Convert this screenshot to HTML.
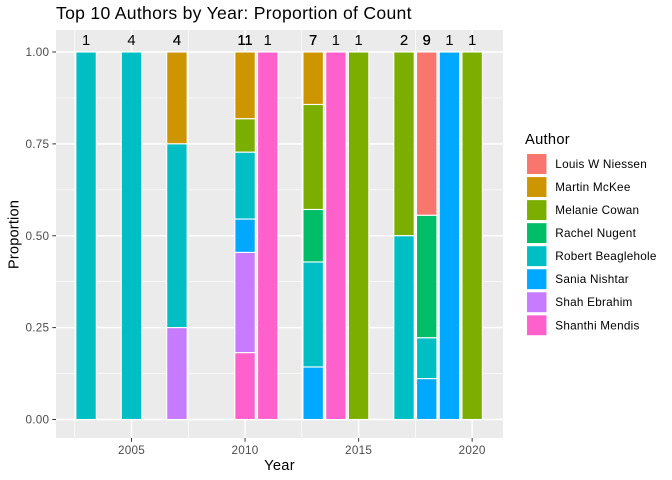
<!DOCTYPE html>
<html>
<head>
<meta charset="utf-8">
<title>Top 10 Authors by Year: Proportion of Count</title>
<style>
html,body{margin:0;padding:0;background:#fff;}
svg{display:block;font-family:"Liberation Sans",Arial,sans-serif;}
</style>
</head>
<body>
<svg id="chart" width="672" height="480" viewBox="0 0 672 480" xmlns="http://www.w3.org/2000/svg">
<rect x="0" y="0" width="672" height="480" fill="#ffffff"/>
<text x="56" y="19" font-size="17.6" letter-spacing="0.29" fill="#000">Top 10 Authors by Year: Proportion of Count</text>
<rect x="56" y="30" width="447" height="408" fill="#EBEBEB"/>
<g id="grid"></g>
<g id="bars"></g>
<g id="counts"></g>
<g id="yaxis"></g>
<g id="xaxis"></g>
<text x="279.5" y="470" font-size="14.67" letter-spacing="0.3" text-anchor="middle" fill="#000">Year</text>
<text transform="translate(18.5 234.5) rotate(-90)" font-size="14.67" letter-spacing="0.15" text-anchor="middle" fill="#000">Proportion</text>
<g id="legend">
<text x="525" y="144" font-size="14.67" letter-spacing="0.3" fill="#000">Author</text>
</g>
</svg>
<script>
const years = [2003, 2005, 2007, 2010, 2011, 2013, 2014, 2015, 2017, 2018, 2019, 2020];
const authors = ["Louis W Niessen", "Martin McKee", "Melanie Cowan", "Rachel Nugent", "Robert Beaglehole", "Sania Nishtar", "Shah Ebrahim", "Shanthi Mendis"];
const colors = ["#F8766D", "#CD9600", "#7CAE00", "#00BE67", "#00BFC4", "#00A9FF", "#C77CFF", "#FF61CC"];
const louisCounts   = [0, 0, 0, 0, 0, 0, 0, 0, 0, 4, 0, 0];
const martinCounts  = [0, 0, 1, 2, 0, 1, 0, 0, 0, 0, 0, 0];
const melanieCounts = [0, 0, 0, 1, 0, 2, 0, 1, 1, 0, 0, 1];
const rachelCounts  = [0, 0, 0, 0, 0, 1, 0, 0, 0, 3, 0, 0];
const robertCounts  = [1, 4, 2, 2, 0, 2, 0, 0, 1, 1, 0, 0];
const saniaCounts   = [0, 0, 0, 1, 0, 1, 0, 0, 0, 1, 1, 0];
const shahCounts    = [0, 0, 1, 3, 0, 0, 0, 0, 0, 0, 0, 0];
const shanthiCounts = [0, 0, 0, 2, 1, 0, 1, 0, 0, 0, 0, 0];
const yTicks = [0, 0.25, 0.5, 0.75, 1];
const yTickLabels = ["0.00", "0.25", "0.50", "0.75", "1.00"];
const yMinorTicks = [0.125, 0.375, 0.625, 0.875];
const xTicks = [2005, 2010, 2015, 2020];
const xMinorTicks = [2002.5, 2007.5, 2012.5, 2017.5];

const seriesCounts = [louisCounts, martinCounts, melanieCounts, rachelCounts, robertCounts, saniaCounts, shahCounts, shanthiCounts];
const NS = "http://www.w3.org/2000/svg";
const xScale = function (v) { return 131.5 + (v - 2005) * 22.71; };
const yScale = function (v) { return 419.5 - v * 367.5; };
const barWidth = 0.9 * 22.71;

function make(tag, parent, attrs, text) {
  const el = document.createElementNS(NS, tag);
  Object.keys(attrs).forEach(function (k) { el.setAttribute(k, attrs[k]); });
  if (text !== undefined) { el.textContent = text; }
  parent.appendChild(el);
  return el;
}

const grid = document.getElementById("grid");
yMinorTicks.forEach(function (v) {
  const el = make("line", grid, { x1: 56, x2: 503, y1: yScale(v), y2: yScale(v), stroke: "#fff", "stroke-width": 0.7 });
  
  
});
xMinorTicks.forEach(function (v) {
  const el = make("line", grid, { x1: xScale(v), x2: xScale(v), y1: 30, y2: 438, stroke: "#fff", "stroke-width": 0.7 });
  
  
});
yTicks.forEach(function (v) {
  const el = make("line", grid, { x1: 56, x2: 503, y1: yScale(v), y2: yScale(v), stroke: "#fff", "stroke-width": 1.4 });
  
  
});
xTicks.forEach(function (v) {
  const el = make("line", grid, { x1: xScale(v), x2: xScale(v), y1: 30, y2: 438, stroke: "#fff", "stroke-width": 1.4 });
  
  
});

const bars = document.getElementById("bars");
const counts = document.getElementById("counts");
years.forEach(function (year, yi) {
  let total = 0;
  seriesCounts.forEach(function (s) { total += s[yi]; });
  let cumulative = 0;
  seriesCounts.forEach(function (s, ai) {
    const n = s[yi];
    if (!n) { return; }
    const top = total ? 1 - cumulative / total : 1;
    cumulative += n;
    const bottom = total ? 1 - cumulative / total : 1;
    const rect = make("rect", bars, {
      x: xScale(year) - barWidth / 2,
      y: yScale(top),
      width: barWidth,
      height: yScale(bottom) - yScale(top),
      fill: colors[ai],
      stroke: "#fff",
      "stroke-width": 1.1
    });
    
    
    const label = make("text", counts, {
      x: xScale(year),
      y: 45,
      "font-size": 14.67,
      "text-anchor": "middle",
      fill: "#000"
    }, String(total));
    
    
  });
});

const yaxis = document.getElementById("yaxis");
yTicks.forEach(function (v, i) {
  const tick = make("line", yaxis, { x1: 52.3, x2: 56, y1: yScale(v), y2: yScale(v), stroke: "#333", "stroke-width": 1 });
  
  
  const label = make("text", yaxis, { x: 49.3, y: yScale(v) + 4.1, "font-size": 11.73, "letter-spacing": 0.25, "text-anchor": "end", fill: "#4D4D4D" }, yTickLabels[i]);
  
  
});

const xaxis = document.getElementById("xaxis");
xTicks.forEach(function (v) {
  const tick = make("line", xaxis, { x1: xScale(v), x2: xScale(v), y1: 438, y2: 441.7, stroke: "#333", "stroke-width": 1 });
  
  
  const label = make("text", xaxis, { x: xScale(v), y: 454, "font-size": 11.73, "letter-spacing": 0.25, "text-anchor": "middle", fill: "#4D4D4D" }, String(v));
  
  
});

const legend = document.getElementById("legend");
authors.forEach(function (name, i) {
  const cy = 164 + i * 23.04;
  const swatch = make("rect", legend, { x: 526.5, y: cy - 10.5, width: 20.5, height: 21, fill: colors[i], stroke: "#fff", "stroke-width": 1.1 });
  
  
  const label = make("text", legend, { x: 555.3, y: cy + 4, "font-size": 11.73, "letter-spacing": 0.25, fill: "#000" }, name);
  
  
});
</script>
</body>
</html>
